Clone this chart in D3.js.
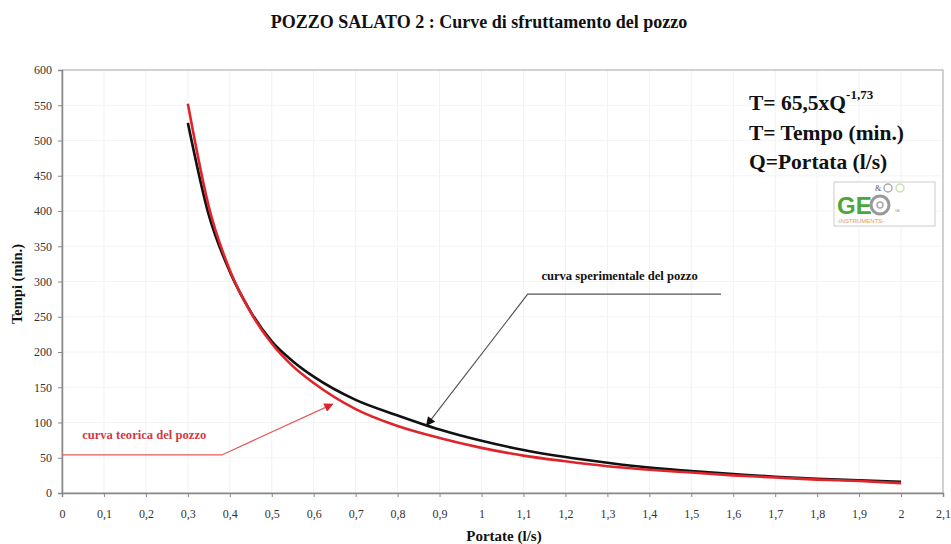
<!DOCTYPE html>
<html>
<head>
<meta charset="utf-8">
<script src="https://cdn.jsdelivr.net/npm/d3@7"></script>
<style>
  body { margin: 0; background: #fff; }
  text { font-family: "Liberation Serif", "Times New Roman", serif; }
</style>
</head>
<body>
<script>
var w = 951;
var h = 544;

// portate (l/s)
var portate = [0.30, 0.35, 0.40, 0.45, 0.50, 0.55, 0.60, 0.70, 0.80, 0.90, 1.00, 1.10, 1.20, 1.30, 1.40, 1.50, 1.60, 1.70, 1.80, 1.90, 2.00];
// tempi (min.)
var sperimentale = [525, 394, 314, 257, 215, 187, 165, 132, 110, 90, 74, 61, 51, 43, 36, 31, 27, 23, 20, 18, 16];
var teorica      = [552, 406, 316, 256, 212, 180, 156, 119, 95, 78, 64, 53, 45, 38, 33, 29, 25, 22, 19, 17, 14];

var xTicks = d3.range(0, 22).map(function(i){ return i / 10; });
var yTicks = d3.range(0, 650, 50);

var margin = {left: 62, right: 8, top: 70, bottom: 51};

var xScale = d3.scaleLinear()
                .domain([0, 2.1])
                .range([margin.left, w - margin.right]);

var yScale = d3.scaleLinear()
                .domain([0, 600])
                .range([h - margin.bottom, margin.top]);

var svg = d3.select("body")
            .append("svg")
            .attr("width", w)
            .attr("height", h);

var fmt = function(d){ return String(Math.round(d * 10) / 10).replace(".", ","); };

// grid
svg.append("g")
    .selectAll("line")
    .data(xTicks.slice(1))
    .enter()
    .append("line")
    .attr("x1", function(d){ return xScale(d); })
    .attr("x2", function(d){ return xScale(d); })
    .attr("y1", yScale(0))
    .attr("y2", yScale(600))
    .attr("stroke", "#f1f1f1");

svg.append("g")
    .selectAll("line")
    .data(yTicks.slice(1))
    .enter()
    .append("line")
    .attr("x1", xScale(0))
    .attr("x2", xScale(2.1))
    .attr("y1", function(d){ return yScale(d); })
    .attr("y2", function(d){ return yScale(d); })
    .attr("stroke", "#f4f4f4");

// frame
svg.append("rect")
    .attr("x", xScale(0))
    .attr("y", yScale(600))
    .attr("width", xScale(2.1) - xScale(0))
    .attr("height", yScale(0) - yScale(600))
    .attr("fill", "none")
    .attr("stroke", "#aaa")
    .attr("stroke-width", 1);

// axes
var xAxis = d3.axisBottom(xScale).tickValues(xTicks).tickFormat(fmt).tickSize(4).tickPadding(12);
var yAxis = d3.axisLeft(yScale).tickValues(yTicks).tickSize(4).tickPadding(6);

var gx = svg.append("g")
    .attr("transform", "translate(0," + yScale(0) + ")")
    .call(xAxis);
var gy = svg.append("g")
    .attr("transform", "translate(" + xScale(0) + ",0)")
    .call(yAxis);

[gx, gy].forEach(function(g){
    g.select(".domain").attr("stroke", "#888").attr("stroke-width", 1.5);
    g.selectAll(".tick line").attr("stroke", "#888");
    g.selectAll(".tick text")
        .attr("fill", "#333")
        .style("font-family", "'Liberation Serif', serif")
        .style("font-size", "12px");
});

// curves
var line = d3.line()
    .x(function(d){ return xScale(d[0]); })
    .y(function(d){ return yScale(d[1]); })
    .curve(d3.curveMonotoneX);

svg.append("path")
    .datum(d3.zip(portate, sperimentale))
    .attr("d", line)
    .attr("fill", "none")
    .attr("stroke", "#111")
    .attr("stroke-width", 2.6);

svg.append("path")
    .datum(d3.zip(portate, teorica))
    .attr("d", line)
    .attr("fill", "none")
    .attr("stroke", "#e0242b")
    .attr("stroke-width", 2.6);

// arrow markers
var defs = svg.append("defs");
[["arrRed", "#e0242b"], ["arrBlack", "#111"]].forEach(function(m){
    defs.append("marker")
        .attr("id", m[0])
        .attr("viewBox", "0 0 10 10")
        .attr("refX", 9)
        .attr("refY", 5)
        .attr("markerWidth", 11)
        .attr("markerHeight", 9)
        .attr("markerUnits", "userSpaceOnUse")
        .attr("orient", "auto")
        .append("path")
        .attr("d", "M0,0L10,5L0,10z")
        .attr("fill", m[1]);
});

// annotations, in data units
var notaTeorica = [[0, 54], [0.381, 54], [0.645, 126]];
var notaSperim = [[1.571, 282], [1.110, 282], [0.869, 96]];

var plain = d3.line()
    .x(function(d){ return xScale(d[0]); })
    .y(function(d){ return yScale(d[1]); });

svg.append("path")
    .attr("d", plain(notaTeorica))
    .attr("fill", "none")
    .attr("stroke", "#e35a5a")
    .attr("stroke-width", 1.2)
    .attr("marker-end", "url(#arrRed)");

svg.append("path")
    .attr("d", plain(notaSperim))
    .attr("fill", "none")
    .attr("stroke", "#555")
    .attr("stroke-width", 1.2)
    .attr("marker-end", "url(#arrBlack)");

svg.append("text")
    .attr("x", xScale(0.048))
    .attr("y", yScale(76))
    .attr("fill", "#d23a3f")
    .attr("font-weight", "bold")
    .attr("font-size", 12.6)
    .text("curva teorica del pozzo");

svg.append("text")
    .attr("x", xScale(1.329))
    .attr("y", yScale(302))
    .attr("text-anchor", "middle")
    .attr("fill", "#111")
    .attr("font-weight", "bold")
    .attr("font-size", 12.6)
    .text("curva sperimentale del pozzo");

// formula
var f = svg.append("g").attr("font-weight", "bold").attr("fill", "#111");
var t1 = f.append("text").attr("x", 749).attr("y", 110).attr("font-size", 21.5);
t1.append("tspan").text("T= 65,5xQ");
t1.append("tspan").attr("dy", -11).attr("font-size", 13).text("-1,73");
f.append("text").attr("x", 749).attr("y", 140).attr("font-size", 21.5).text("T= Tempo (min.)");
f.append("text").attr("x", 749).attr("y", 169).attr("font-size", 21.5).text("Q=Portata (l/s)");

// logo
var logo = svg.append("g").attr("transform", "translate(834,182)");
logo.append("rect").attr("width", 101).attr("height", 44).attr("fill", "#fff").attr("stroke", "#ccc");
logo.append("text").attr("x", 3).attr("y", 32).attr("font-size", 24).attr("font-weight", "bold")
    .style("font-family", "'Liberation Sans', sans-serif").attr("fill", "#4aa83a").text("GE");
logo.append("circle").attr("cx", 46).attr("cy", 23).attr("r", 9).attr("fill", "none").attr("stroke", "#999").attr("stroke-width", 3);
logo.append("circle").attr("cx", 46).attr("cy", 23).attr("r", 3).attr("fill", "none").attr("stroke", "#aaa").attr("stroke-width", 1.5);
logo.append("circle").attr("cx", 54).attr("cy", 6).attr("r", 4).attr("fill", "none").attr("stroke", "#aaa").attr("stroke-width", 1.5);
logo.append("circle").attr("cx", 66).attr("cy", 6).attr("r", 4).attr("fill", "none").attr("stroke", "#c9dfa6").attr("stroke-width", 1.5);
logo.append("text").attr("x", 41).attr("y", 9).attr("font-size", 8).attr("fill", "#555").text("&");
logo.append("text").attr("x", 61).attr("y", 31).attr("font-size", 7).attr("fill", "#777").text("®");
logo.append("text").attr("x", 3).attr("y", 41).attr("font-size", 6).attr("fill", "#e39a5a")
    .style("font-family", "'Liberation Sans', sans-serif").text("-INSTRUMENTS-");

// titles
svg.append("text")
    .attr("x", 479)
    .attr("y", 28)
    .attr("text-anchor", "middle")
    .attr("font-weight", "bold")
    .attr("font-size", 18)
    .attr("fill", "#111")
    .text("POZZO SALATO 2 : Curve di sfruttamento del pozzo");

svg.append("text")
    .attr("transform", "translate(22,284) rotate(-90)")
    .attr("text-anchor", "middle")
    .attr("font-weight", "bold")
    .attr("font-size", 14.5)
    .attr("fill", "#111")
    .text("Tempi (min.)");

svg.append("text")
    .attr("x", 504)
    .attr("y", 541)
    .attr("text-anchor", "middle")
    .attr("font-weight", "bold")
    .attr("font-size", 15)
    .attr("fill", "#111")
    .text("Portate (l/s)");
</script>
</body>
</html>
